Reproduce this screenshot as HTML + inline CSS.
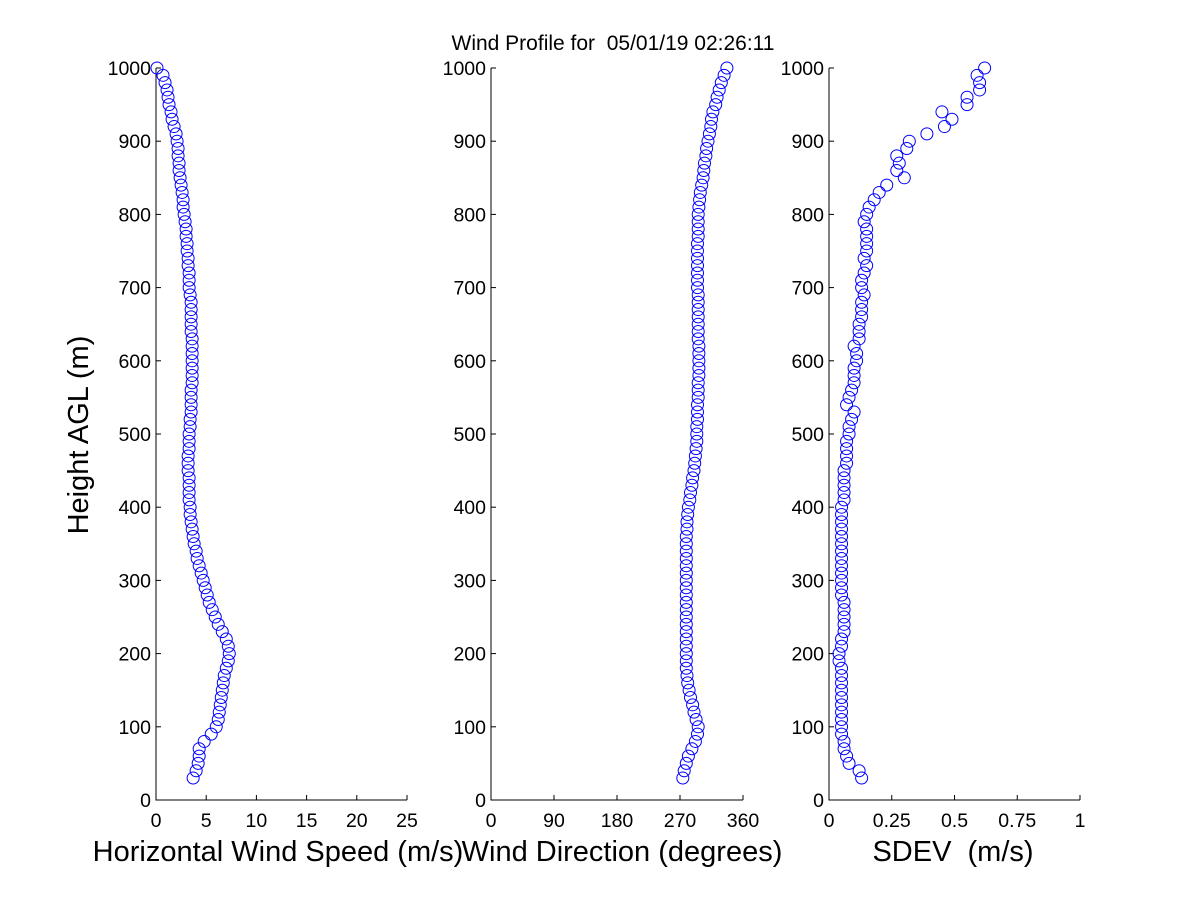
<!DOCTYPE html>
<html><head><meta charset="utf-8"><style>
html,body{margin:0;padding:0;background:#fff;}
svg{display:block;font-family:"Liberation Sans",Arial,sans-serif;}
</style></head><body>
<svg id="chart" width="1200" height="900" viewBox="0 0 1200 900">
<rect width="1200" height="900" fill="#fff"/>
<text x="613" y="50" font-size="21" text-anchor="middle" style="white-space:pre" xml:space="preserve">Wind Profile for  05/01/19 02:26:11</text>
<text transform="translate(88,435) rotate(-90)" font-size="29" text-anchor="middle">Height AGL (m)</text>
<g id="plots"></g>
</svg>
<script>
const heights=[30,40,50,60,70,80,90,100,110,120,130,140,150,160,170,180,190,200,210,220,230,240,250,260,270,280,290,300,310,320,330,340,350,360,370,380,390,400,410,420,430,440,450,460,470,480,490,500,510,520,530,540,550,560,570,580,590,600,610,620,630,640,650,660,670,680,690,700,710,720,730,740,750,760,770,780,790,800,810,820,830,840,850,860,870,880,890,900,910,920,930,940,950,960,970,980,990,1000];
const speedValues=[3.7,4.0,4.2,4.3,4.3,4.8,5.5,6.0,6.2,6.3,6.4,6.5,6.6,6.7,6.8,7.0,7.2,7.3,7.2,7.0,6.6,6.2,5.9,5.6,5.3,5.1,4.9,4.7,4.5,4.3,4.1,4.0,3.8,3.7,3.6,3.5,3.4,3.4,3.3,3.3,3.3,3.3,3.2,3.2,3.2,3.3,3.3,3.3,3.4,3.4,3.5,3.5,3.5,3.5,3.6,3.6,3.6,3.6,3.6,3.6,3.6,3.5,3.5,3.5,3.5,3.5,3.4,3.3,3.3,3.3,3.2,3.2,3.1,3.1,3.0,3.0,2.9,2.8,2.7,2.7,2.6,2.5,2.4,2.3,2.3,2.2,2.2,2.1,2.0,1.8,1.6,1.5,1.3,1.2,1.1,0.9,0.7,0.1];
const directionValues=[274,276,279,282,287,292,295,296,293,290,288,285,283,281,280,279,279,279,279,279,279,279,279,279,279,279,279,279,279,279,279,279,279,279,280,280,281,282,284,285,287,288,290,291,292,293,294,294,294,295,295,295,296,296,296,297,297,297,297,297,296,296,296,296,296,296,296,295,295,295,295,295,295,295,296,296,296,296,297,298,299,301,303,304,305,307,308,310,312,314,315,317,321,323,326,329,333,337];
const sdevValues=[0.13,0.12,0.08,0.07,0.06,0.06,0.05,0.05,0.05,0.05,0.05,0.05,0.05,0.05,0.05,0.05,0.04,0.04,0.05,0.05,0.06,0.06,0.06,0.06,0.06,0.05,0.05,0.05,0.05,0.05,0.05,0.05,0.05,0.05,0.05,0.05,0.05,0.05,0.06,0.06,0.06,0.06,0.06,0.07,0.07,0.07,0.07,0.08,0.08,0.09,0.1,0.07,0.08,0.09,0.1,0.1,0.1,0.11,0.11,0.1,0.12,0.12,0.12,0.13,0.13,0.13,0.14,0.13,0.13,0.14,0.15,0.14,0.15,0.15,0.15,0.15,0.14,0.15,0.16,0.18,0.2,0.23,0.3,0.27,0.28,0.27,0.31,0.32,0.39,0.46,0.49,0.45,0.55,0.55,0.6,0.6,0.59,0.62];
const yTicks=[0,100,200,300,400,500,600,700,800,900,1000];
const speedTicks=[0,5,10,15,20,25];
const dirTicks=[0,90,180,270,360];
const sdevTicks=[0,0.25,0.5,0.75,1];
const sdevTickLabels=["0","0.25","0.5","0.75","1"];

const NS="http://www.w3.org/2000/svg";
const plots=document.getElementById('plots');
const yTop=68,yBot=800;
function yScale(h){return yBot-(h/1000)*(yBot-yTop);}
function mk(tag,attrs,parent){const e=document.createElementNS(NS,tag);for(const k in attrs)e.setAttribute(k,attrs[k]);parent.appendChild(e);return e;}

const panels=[
 {name:'speed',x0:156,x1:407,max:25,vals:speedValues,ticks:speedTicks,labels:speedTicks.map(String),title:'Horizontal Wind Speed (m/s)',tx:278},
 {name:'direction',x0:491,x1:743,max:360,vals:directionValues,ticks:dirTicks,labels:dirTicks.map(String),title:'Wind Direction (degrees)',tx:622},
 {name:'sdev',x0:829,x1:1080,max:1,vals:sdevValues,ticks:sdevTicks,labels:sdevTickLabels,title:'SDEV  (m/s)',tx:953}
];
panels.forEach(p=>{
 const g=mk('g',{},plots);
 
 
 const xs=v=>p.x0+(v/p.max)*(p.x1-p.x0);
 const ax=mk('path',{d:`M${p.x0},${yTop} V${yBot} H${p.x1}`,stroke:'#000',fill:'none','stroke-width':1},g);
 
 
 yTicks.forEach(t=>{
  const y=yScale(t);
  mk('line',{x1:p.x0,x2:p.x0+5,y1:y,y2:y,stroke:'#000'},g);
  const tl=mk('text',{x:p.x0-5,y:y+7,'font-size':19.5,'text-anchor':'end'},g);
  tl.textContent=t;
  
  
 });
 p.ticks.forEach((t,i)=>{
  const x=xs(t);
  mk('line',{x1:x,x2:x,y1:yBot,y2:yBot-5,stroke:'#000'},g);
  const tl=mk('text',{x:x,y:827,'font-size':19.5,'text-anchor':'middle'},g);
  tl.textContent=p.labels[i];
  
  
 });
 const tt=mk('text',{x:p.tx,y:861,'font-size':29,'text-anchor':'middle'},g);
 tt.setAttribute('xml:space','preserve');
 tt.style.whiteSpace='pre';
 tt.textContent=p.title;
 
 
 heights.forEach((h,i)=>{
  const c=mk('circle',{cx:xs(p.vals[i]),cy:yScale(h),r:6,fill:'none',stroke:'#0000ff','stroke-width':1},g);
  
  
 });
});
</script>
</body></html>
